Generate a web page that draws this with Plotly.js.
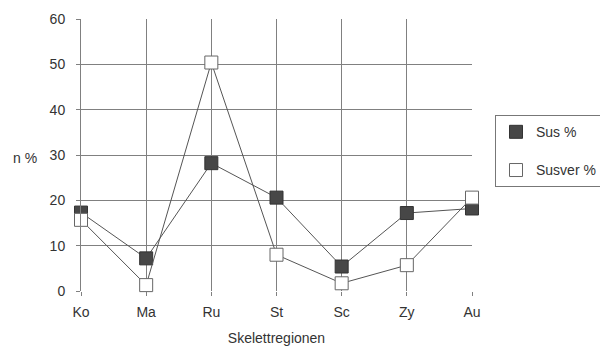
<!DOCTYPE html>
<html><head><meta charset="utf-8">
<script src="https://cdn.plot.ly/plotly-3.0.1.min.js"></script>
<style>body{margin:0;background:#fff}#chart{width:600px;height:346px}</style>
</head><body><div id="chart"></div>
<script>
const categories = ["Ko","Ma","Ru","St","Sc","Zy","Au"];
const susValues = [17.3, 7.2, 28.2, 20.6, 5.4, 17.2, 18.2];
const susverValues = [15.7, 1.3, 50.4, 8.0, 1.7, 5.7, 20.6];
const yTicks = [0,10,20,30,40,50,60];
const seriesNames = ["Sus %", "Susver %"];

const filledMarker = {symbol: "square", size: 13, color: "#474747", line: {color: "#333", width: 1}};
const openMarker = {symbol: "square", size: 13, color: "#fff", line: {color: "#666", width: 1}};

const traces = [
  {x: categories, y: susValues, name: seriesNames[0], type: "scatter", mode: "lines+markers",
   showlegend: false, cliponaxis: false,
   line: {color: "#555", width: 1}, marker: filledMarker},
  {x: categories, y: susverValues, name: seriesNames[1], type: "scatter", mode: "lines+markers",
   showlegend: false, cliponaxis: false,
   line: {color: "#555", width: 1}, marker: openMarker},
  {x: [null], y: [null], name: seriesNames[0], type: "scatter", mode: "markers",
   legendgroup: "a", marker: filledMarker},
  {x: [null], y: [null], name: seriesNames[1], type: "scatter", mode: "markers",
   legendgroup: "b", marker: openMarker}
];

const layout = {
  width: 600, height: 346,
  margin: {l: 81, r: 128, t: 19, b: 55},
  paper_bgcolor: "#fff", plot_bgcolor: "#fff",
  font: {family: "Liberation Sans, Arial, sans-serif", size: 14, color: "#333"},
  showlegend: true,
  legend: {xref: "container", yref: "container", x: 0.825, y: 0.667,
    xanchor: "left", yanchor: "top",
    bordercolor: "#777", borderwidth: 1, bgcolor: "#fff",
    traceorder: "grouped", tracegroupgap: 17, itemwidth: 30,
    font: {size: 14, color: "#333"}},
  xaxis: {type: "category", categoryorder: "array", categoryarray: categories,
    range: [0, 6], showgrid: true, gridcolor: "#808080", gridwidth: 1,
    ticks: "outside", ticklen: 4, tickcolor: "#808080", zeroline: false,
    ticklabelstandoff: 4,
    showline: false, fixedrange: true,
    title: {text: "Skelettregionen", font: {size: 14, color: "#333"}, standoff: 14}},
  yaxis: {range: [0, 60], tickvals: yTicks, showgrid: true, gridcolor: "#808080", gridwidth: 1,
    ticks: "outside", ticklen: 4, tickcolor: "#808080", zeroline: false,
    ticklabelstandoff: 8,
    showline: true, linecolor: "#808080", linewidth: 1, fixedrange: true},
  annotations: [{text: "n %", xref: "paper", yref: "paper", x: -0.143, y: 0.49,
    xanchor: "center", yanchor: "middle", showarrow: false, font: {size: 14, color: "#333"}}]
};
Plotly.newPlot("chart", traces, layout, {displayModeBar: false, staticPlot: true});
</script></body></html>
